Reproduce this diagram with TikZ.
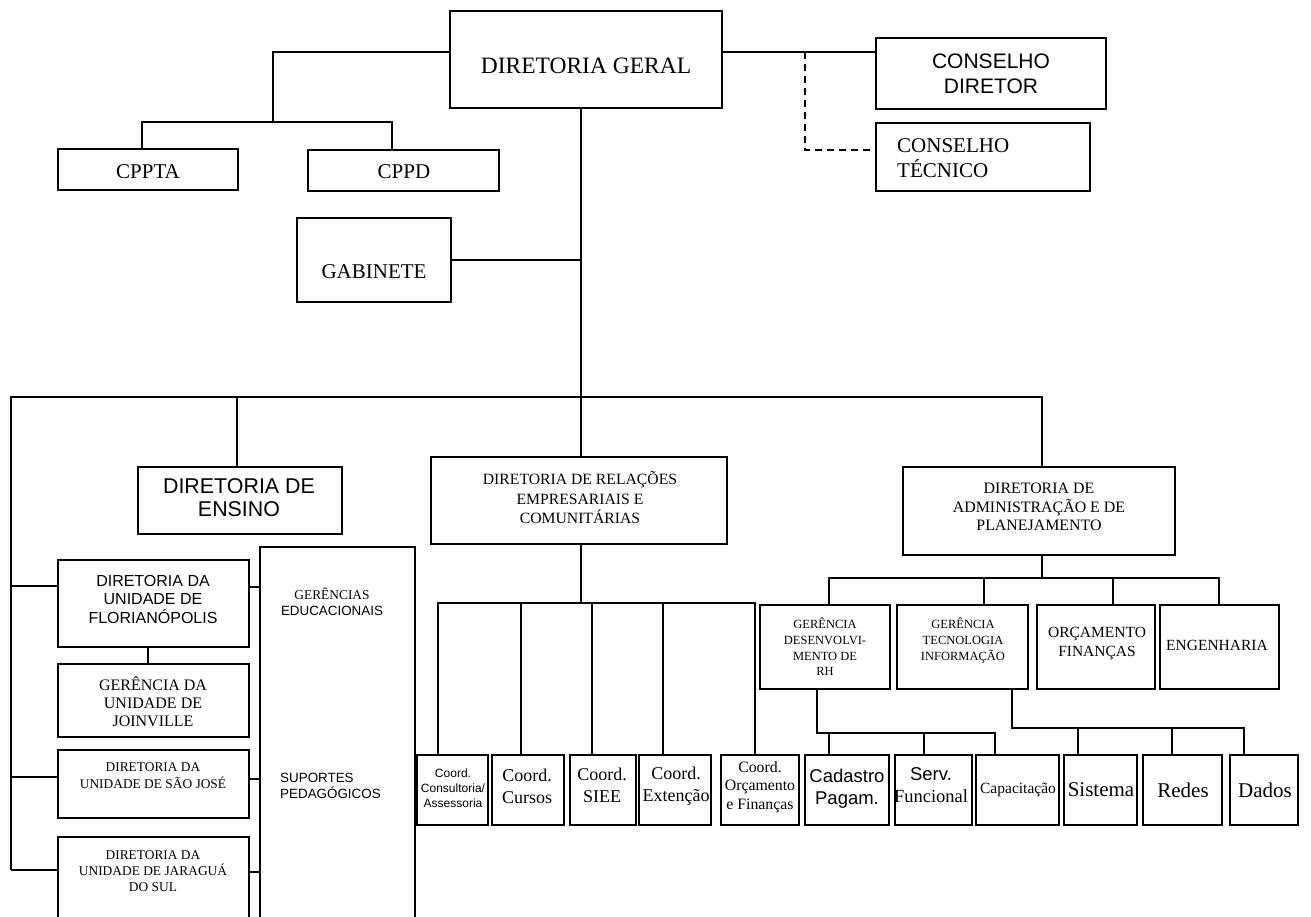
\documentclass[tikz,border=0pt]{standalone}
\usepackage{fontspec}
\setmainfont{Liberation Serif}
\setsansfont{Liberation Sans}
\usetikzlibrary{fit}
\newcommand\myfs[2]{\fontsize{#1}{#2}\selectfont}
\begin{document}
\begin{tikzpicture}[x=1pt,y=-1pt,
  box/.style={draw, line width=1.5pt, inner sep=0pt},
  ln/.style={line width=1.5pt},
  txt/.style={inner sep=0pt, align=center}]
\clip (0,0) rectangle (1311,917);
\fill[white] (0,0) rectangle (1311,917);

% ---------- boxes ----------
\node[box, fit={(450,11) (722,108)}] (dg) {};
\node[box, fit={(58,149) (238,190)}] (cppta) {};
\node[box, fit={(308,150) (499,191)}] (cppd) {};
\node[box, fit={(297,218) (451,302)}] (gab) {};
\node[box, fit={(876,38) (1106,109)}] (cd) {};
\node[box, fit={(876,123) (1090,191)}] (ct) {};
\node[box, fit={(138,467) (342,534)}] (ens) {};
\node[box, fit={(58,560) (249,647)}] (flo) {};
\node[box, fit={(58,664) (249,737)}] (joi) {};
\node[box, fit={(58,750) (249,818)}] (sj) {};
\node[box, fit={(58,837) (249,940)}] (jar) {};
\node[box, fit={(260,547) (415,940)}] (ger) {};
\node[box, fit={(431,457) (727,544)}] (drec) {};
\node[box, fit={(903,467) (1175,555)}] (dap) {};
\node[box, fit={(760,605) (890,689)}] (gdrh) {};
\node[box, fit={(897,605) (1028,689)}] (gti) {};
\node[box, fit={(1037,605) (1155,689)}] (orc) {};
\node[box, fit={(1160,605) (1279,689)}] (eng) {};
\node[box, fit={(417,755) (488,825)}] (cons) {};
\node[box, fit={(492,755) (564,825)}] (cur) {};
\node[box, fit={(570,755) (636,825)}] (siee) {};
\node[box, fit={(639,755) (711,825)}] (ext) {};
\node[box, fit={(721,755) (799,825)}] (corc) {};
\node[box, fit={(805,755) (889,825)}] (cad) {};
\node[box, fit={(895,755) (972,825)}] (serv) {};
\node[box, fit={(976,755) (1059,825)}] (cap) {};
\node[box, fit={(1064,755) (1137,825)}] (sis) {};
\node[box, fit={(1143,755) (1222,825)}] (red) {};
\node[box, fit={(1230,755) (1298,825)}] (dad) {};

% ---------- texts ----------
\node[txt, font={\myfs{23.5}{28}}] (tdg) at (586,66) {DIRETORIA GERAL};
\node[txt, font={\myfs{21}{25}}] (tcppta) at (148,172) {CPPTA};
\node[txt, font={\myfs{21}{25}}] (tcppd) at (404,172) {CPPD};
\node[txt, font={\myfs{21}{25}}] (tgab) at (374,272) {GABINETE};
\node[txt, font={\sffamily\myfs{21}{25}}] (tcd) at (991,74) {CONSELHO\\DIRETOR};
\node[txt, align=left, anchor=west, font={\myfs{21}{25}}] (tct) at (897,158) {CONSELHO\\TÉCNICO};
\node[txt, font={\sffamily\myfs{21.4}{23}}] (tens) at (239,498) {DIRETORIA DE\\ENSINO};
\node[txt, font={\sffamily\myfs{16}{18.5}}] (tflo) at (153,599) {DIRETORIA DA\\UNIDADE DE\\FLORIANÓPOLIS};
\node[txt, font={\myfs{16}{18}}] (tjoi) at (153,702) {GERÊNCIA DA\\UNIDADE DE\\JOINVILLE};
\node[txt, font={\myfs{13.4}{17}}] (tsj) at (153,776) {DIRETORIA DA\\UNIDADE DE SÃO JOSÉ};
\node[txt, font={\myfs{13.4}{16}}] (tjar) at (153,871) {DIRETORIA DA\\UNIDADE DE JARAGUÁ\\DO SUL};
\node[txt, font={\myfs{13.4}{15.5}}] (tger) at (332,602) {GERÊNCIAS\\{\sffamily EDUCACIONAIS}};
\node[txt, align=left, anchor=west, font={\sffamily\myfs{13.4}{16}}] (tsup) at (280,786) {SUPORTES\\PEDAGÓGICOS};
\node[txt, font={\myfs{15.7}{19.5}}] (tdrec) at (580,498) {DIRETORIA DE RELAÇÕES\\EMPRESARIAIS E\\COMUNITÁRIAS};
\node[txt, font={\myfs{15.9}{18.5}}] (tdap) at (1039,507) {DIRETORIA DE\\ADMINISTRAÇÃO E DE\\PLANEJAMENTO};
\node[txt, font={\myfs{12.5}{15.7}}] (tgdrh) at (825,647) {GERÊNCIA\\DESENVOLVI-\\MENTO DE\\RH};
\node[txt, font={\myfs{12.5}{16}}] (tgti) at (963,640) {GERÊNCIA\\TECNOLOGIA\\INFORMAÇÃO};
\node[txt, font={\myfs{15.5}{19}}] (torc) at (1097,644) {ORÇAMENTO\\FINANÇAS};
\node[txt, font={\myfs{15.5}{19}}] (teng) at (1217,645) {ENGENHARIA};
\node[txt, font={\sffamily\myfs{12}{15}}] (tcons) at (453,788) {Coord.\\Consultoria/\\Assessoria};
\node[txt, font={\myfs{18}{22}}] (tcur) at (527,786) {Coord.\\Cursos};
\node[txt, font={\myfs{18}{22}}] (tsiee) at (602,785) {Coord.\\SIEE};
\node[txt, font={\myfs{18}{22}}] (text) at (676,786) {Coord.\\Extenção};
\node[txt, font={\myfs{15.8}{18.5}}] (tcorc) at (760,787) {Coord.\\Orçamento\\e Finanças};
\node[txt, font={\sffamily\myfs{18.5}{22}}] (tcad) at (847,789) {Cadastro\\Pagam.};
\node[txt, font={\myfs{18.5}{22}}] (tserv) at (931,785) {{\sffamily Serv.}\\Funcional};
\node[txt, font={\myfs{15.5}{19}}] (tcap) at (1018,790) {Capacitação};
\node[txt, font={\myfs{21}{25}}] (tsis) at (1101,790) {Sistema};
\node[txt, font={\myfs{21}{25}}] (tred) at (1183,790) {Redes};
\node[txt, font={\myfs{21}{25}}] (tdad) at (1265,790) {Dados};

% ---------- connectors ----------
% top-left: CPPTA / CPPD
\draw[ln] (dg.west |- 0,52) -| (273,122);
\draw[ln] (cppta.north -| 142,0) |- (273,122) -| (cppd.north -| 392,0);
% top-right: conselhos
\draw[ln] (dg.east |- 0,52) -- (cd.west |- 0,52);
\draw[line width=1.3pt, dash pattern=on 7pt off 5pt] (805,52) |- (ct.west |- 0,150);
% central spine
\draw[ln] (dg.south -| 581,0) -- (581,397);
\draw[ln] (gab.east |- 0,260) -- (581,260);
% main bar
\draw[ln] (11,870) -- (11,397) -| (dap.north -| 1042,0);
\draw[ln] (237,397) -- (ens.north -| 237,0);
\draw[ln] (581,397) -- (drec.north -| 581,0);
% ensino branch
\draw[ln] (11,586) -- (flo.west |- 0,586);
\draw[ln] (11,777) -- (sj.west |- 0,777);
\draw[ln] (11,870) -- (jar.west |- 0,870);
\draw[ln] (flo.east |- 0,587) -- (ger.west |- 0,587);
\draw[ln] (sj.east |- 0,779) -- (ger.west |- 0,779);
\draw[ln] (jar.east |- 0,872) -- (ger.west |- 0,872);
\draw[ln] (flo.south -| 148,0) -- (joi.north -| 148,0);
% DREC branch
\draw[ln] (drec.south -| 581,0) -- (581,603);
\draw[ln] (cons.north -| 438,0) |- (755,603) -- (corc.north -| 755,0);
\draw[ln] (521,603) -- (cur.north -| 521,0);
\draw[ln] (592,603) -- (siee.north -| 592,0);
\draw[ln] (663,603) -- (ext.north -| 663,0);
% DAP branch
\draw[ln] (dap.south -| 1042,0) -- (1042,578);
\draw[ln] (gdrh.north -| 829,0) |- (1219,578) -- (eng.north -| 1219,0);
\draw[ln] (984,578) -- (gti.north -| 984,0);
\draw[ln] (1113,578) -- (orc.north -| 1113,0);
% GDRH sub-branch
\draw[ln] (gdrh.south -| 817,0) |- (995,733) -- (cap.north -| 995,0);
\draw[ln] (829,733) -- (cad.north -| 829,0);
\draw[ln] (924,733) -- (serv.north -| 924,0);
% GTI sub-branch
\draw[ln] (gti.south -| 1012,0) |- (1244,728) -- (dad.north -| 1244,0);
\draw[ln] (1078,728) -- (sis.north -| 1078,0);
\draw[ln] (1172,728) -- (red.north -| 1172,0);
\end{tikzpicture}
\end{document}
